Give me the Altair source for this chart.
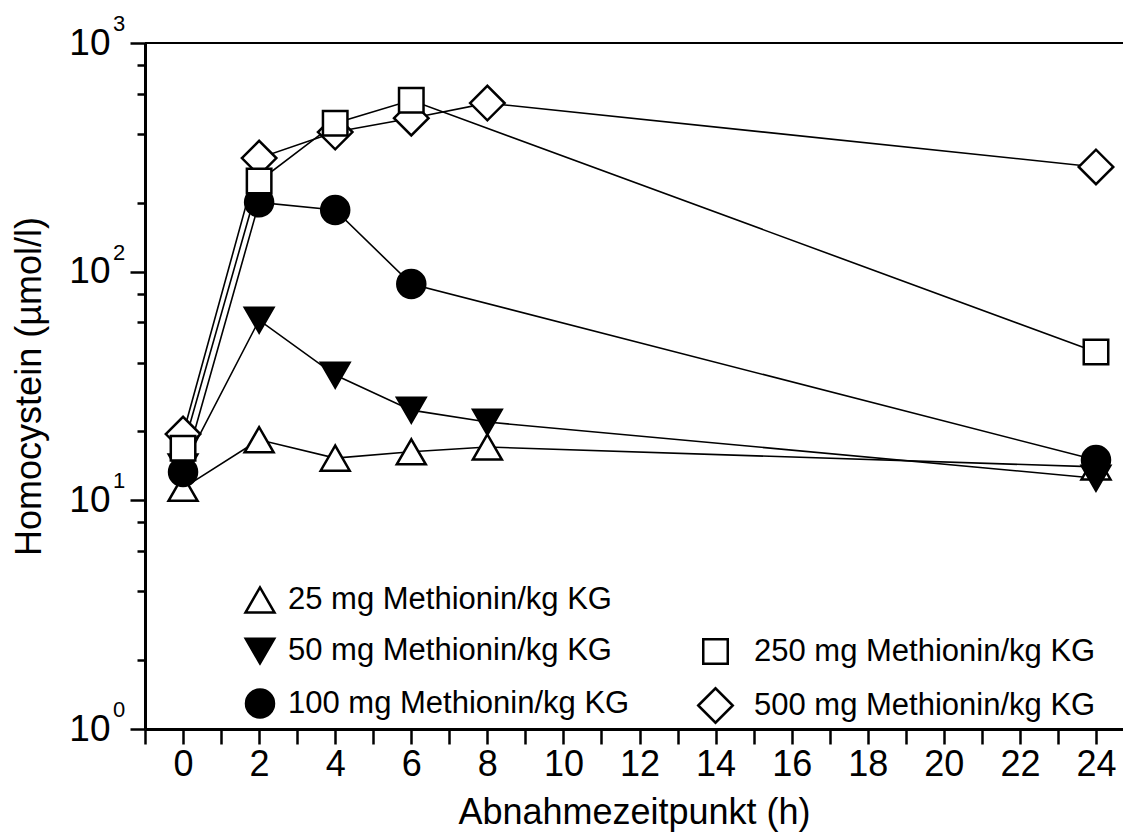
import altair as alt
import pandas as pd

# ---------------- data ----------------
series_labels = [
    "25 mg Methionin/kg KG",
    "50 mg Methionin/kg KG",
    "100 mg Methionin/kg KG",
    "250 mg Methionin/kg KG",
    "500 mg Methionin/kg KG",
]

hours_25 = [0, 2, 4, 6, 8, 24]
vals_25 = [11.3, 18.4, 15.3, 16.3, 17.1, 14.0]

hours_50 = [0, 2, 4, 6, 8, 24]
vals_50 = [14.0, 61.4, 35.3, 24.8, 22.0, 12.5]

hours_100 = [0, 2, 4, 6, 24]
vals_100 = [13.3, 201, 186, 88.3, 15.0]

hours_250 = [0, 2, 4, 6, 24]
vals_250 = [16.9, 249, 446, 562, 44.5]

hours_500 = [0, 2, 4, 6, 8, 24]
vals_500 = [19.5, 314, 408, 469, 546, 287]

x_tick_values = list(range(-1, 25))
y_major = [1, 10, 100, 1000]
y_minor = [2, 4, 6, 8, 20, 40, 60, 80, 200, 400, 600, 800]
y_exponents = ["0", "1", "2", "3"]


def frame(label, hours, vals):
    return pd.DataFrame({"series": label, "hour": hours, "value": vals})


left_df = pd.concat([
    frame(series_labels[0], hours_25, vals_25),
    frame(series_labels[1], hours_50, vals_50),
    frame(series_labels[2], hours_100, vals_100),
], ignore_index=True)

# diamonds first so the squares are drawn on top of them
right_df = pd.concat([
    frame(series_labels[4], hours_500, vals_500),
    frame(series_labels[3], hours_250, vals_250),
], ignore_index=True)

exp_df = pd.DataFrame({"value": y_major, "exp": y_exponents})
top_df = pd.DataFrame({"value": [1000]})

# ---------------- styling ----------------
FONT = "Liberation Sans"
W, H = 978, 686

major_test = "datum.value == 1 || datum.value == 10 || datum.value == 100 || datum.value == 1000"

x_enc = alt.X(
    "hour:Q",
    scale=alt.Scale(domain=[-1, 24.71], nice=False, zero=False),
    axis=alt.Axis(
        values=x_tick_values,
        labelExpr="datum.value >= 0 && datum.value % 2 == 0 ? datum.label : ''",
        tickSize=15, tickWidth=2.5, tickColor="black",
        domainWidth=3, domainColor="black",
        labelFontSize=36, labelFont=FONT, labelColor="black", labelPadding=3,
        labelOverlap=False, labelFlush=False,
        grid=False,
        title="Abnahmezeitpunkt (h)", titleFontSize=36, titleFont=FONT,
        titleFontWeight="normal", titleColor="black",
        titleX=489, titleY=94, titleBaseline="alphabetic", titleAlign="center",
    ),
)

y_enc = alt.Y(
    "value:Q",
    scale=alt.Scale(type="log", domain=[1, 1000], nice=False),
    axis=alt.Axis(
        values=y_major + y_minor,
        labelExpr="(" + major_test + ") ? '10' : ''",
        tickSize={"condition": {"test": major_test, "value": 15}, "value": 8},
        tickWidth=2.5, tickColor="black",
        domainWidth=3, domainColor="black",
        labelFontSize=37, labelFont=FONT, labelColor="black", labelPadding=20,
        labelOverlap=False, labelFlush=False, labelBaseline="middle",
        grid=False,
        title="Homocystein (µmol/l)", titleFontSize=36, titleFont=FONT,
        titleFontWeight="normal", titleColor="black",
        titleX=-105, titleY=343, titleAngle=-90, titleBaseline="alphabetic",
        titleAlign="center",
    ),
)

left_legend = alt.Legend(
    title=None, orient="none", legendX=99, legendY=541, padding=0,
    labelFontSize=31, labelFont=FONT, labelColor="black", labelOffset=12,
    symbolStrokeWidth=2.5, rowPadding=15, labelLimit=600,
)
right_legend = alt.Legend(
    title=None, orient="none", legendX=552, legendY=593, padding=0,
    labelFontSize=31, labelFont=FONT, labelColor="black", labelOffset=20,
    symbolStrokeWidth=2.5, rowPadding=14, labelLimit=600,
)

left_dom = series_labels[:3]
right_dom = series_labels[3:]

lines_left = alt.Chart(left_df).mark_line(color="black", strokeWidth=1.6).encode(
    x=x_enc, y=y_enc, detail="series:N"
)
pts_left = alt.Chart(left_df).mark_point(
    filled=True, strokeWidth=2.5, opacity=1
).encode(
    x=x_enc, y=y_enc,
    shape=alt.Shape("series:N", scale=alt.Scale(domain=left_dom, range=["triangle-up", "triangle-down", "circle"]), legend=left_legend),
    fill=alt.Fill("series:N", scale=alt.Scale(domain=left_dom, range=["white", "black", "black"]), legend=left_legend),
    stroke=alt.Stroke("series:N", scale=alt.Scale(domain=left_dom, range=["black", "black", "black"]), legend=left_legend),
    size=alt.Size("series:N", scale=alt.Scale(domain=left_dom, range=[841, 784, 650]), legend=left_legend),
)

lines_right = alt.Chart(right_df).mark_line(color="black", strokeWidth=1.6).encode(
    x=x_enc, y=y_enc, detail="series:N"
)
pts_right = alt.Chart(right_df).mark_point(
    filled=True, strokeWidth=2.5, opacity=1
).encode(
    x=x_enc, y=y_enc,
    shape=alt.Shape("series:N", scale=alt.Scale(domain=right_dom, range=["square", "diamond"]), legend=right_legend),
    fill=alt.Fill("series:N", scale=alt.Scale(domain=right_dom, range=["white", "white"]), legend=right_legend),
    stroke=alt.Stroke("series:N", scale=alt.Scale(domain=right_dom, range=["black", "black"]), legend=right_legend),
    size=alt.Size("series:N", scale=alt.Scale(domain=right_dom, range=[600, 1190]), legend=right_legend),
)

exps = alt.Chart(exp_df).mark_text(
    align="left", baseline="middle", dy=-19, fontSize=22, font=FONT, color="black"
).encode(x=alt.value(-32), y=y_enc, text="exp:N")

top_rule = alt.Chart(top_df).mark_rule(color="black", strokeWidth=2).encode(
    y=y_enc, x=alt.value(0), x2=alt.value(W)
)

chart = alt.layer(
    lines_left, pts_left, lines_right, pts_right, exps, top_rule
).resolve_scale(
    shape="independent", fill="independent", stroke="independent", size="independent"
).properties(
    width=W, height=H,
    padding={"left": 145, "top": 43, "right": 0, "bottom": 105},
    autosize=alt.AutoSizeParams(type="none"),
    background="white",
).configure_view(stroke=None)

chart.save("out.html", embed_options={"renderer": "svg", "actions": False})
